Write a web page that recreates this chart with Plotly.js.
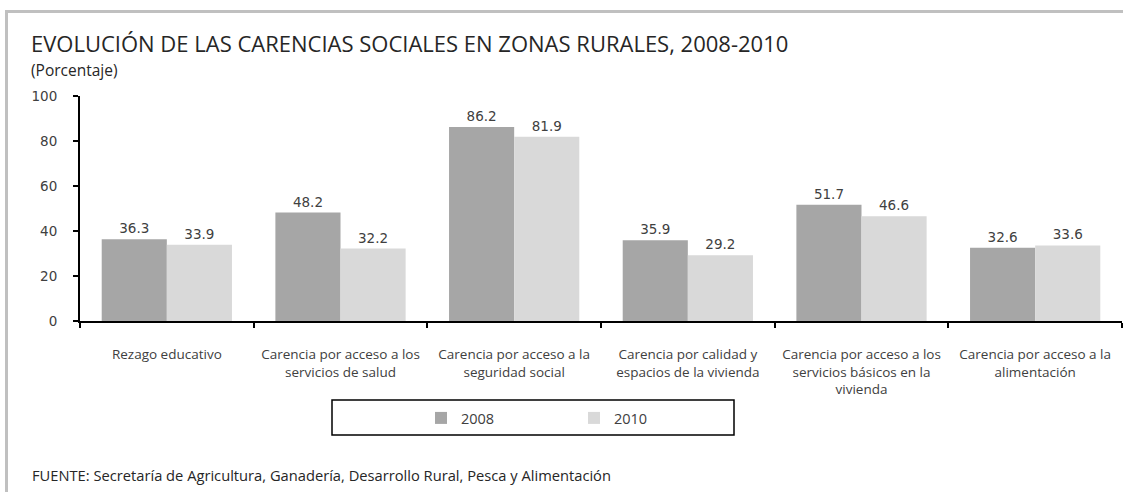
<!DOCTYPE html>
<html><head><meta charset="utf-8">
<script src="https://cdn.plot.ly/plotly-3.0.1.min.js"></script>
<style>html,body{margin:0;padding:0;background:#fff;}#chart{width:1123px;height:492px;}</style>
</head><body><div id="chart"></div>
<script>
const categories = [
  "Rezago educativo",
  "Carencia por acceso a los<br>servicios de salud",
  "Carencia por acceso a la<br>seguridad social",
  "Carencia por calidad y<br>espacios de la vivienda",
  "Carencia por acceso a los<br>servicios básicos en la<br>vivienda",
  "Carencia por acceso a la<br>alimentación"
];
const values2008 = [36.3, 48.2, 86.2, 35.9, 51.7, 32.6];
const values2010 = [33.9, 32.2, 81.9, 29.2, 46.6, 33.6];
const seriesNames = ["2008", "2010"];
const yTicks = [0, 20, 40, 60, 80, 100];

const W = 1123, H = 492, L = 80, R = 1, T = 96, B = 171;
const pw = W - L - R, ph = H - T - B;
const px = x => (x - L) / pw;
const py = y => (H - B - y) / ph;

const FONT = "Open Sans, Noto Sans, sans-serif";
const NUMFONT = "DejaVu Sans, Verdana, sans-serif";
const TXT = "#404040";

const traces = [
  {type: "bar", name: seriesNames[0], x: categories, y: values2008,
   marker: {color: "#a6a6a6"}, text: values2008.map(v => v.toFixed(1)),
   textposition: "outside", cliponaxis: false,
   textfont: {family: NUMFONT, size: 13.5, color: TXT}},
  {type: "bar", name: seriesNames[1], x: categories, y: values2010,
   marker: {color: "#d9d9d9"}, text: values2010.map(v => v.toFixed(1)),
   textposition: "outside", cliponaxis: false,
   textfont: {family: NUMFONT, size: 13.5, color: TXT}}
];

const layout = {
  width: W, height: H,
  margin: {l: L, r: R, t: T, b: B, pad: 0},
  paper_bgcolor: "#fff", plot_bgcolor: "#fff",
  font: {family: FONT, color: TXT},
  barmode: "group", bargap: 0.25, bargroupgap: 0,
  showlegend: true,
  legend: {orientation: "h", x: px(421), xanchor: "left", y: py(402), yanchor: "top",
           font: {family: FONT, size: 14.5, color: TXT}, entrywidth: 108, entrywidthmode: "pixels",
           bgcolor: "rgba(0,0,0,0)", borderwidth: 0, itemclick: false},
  xaxis: {type: "category", showline: true, linecolor: "#000", linewidth: 2,
          ticks: "outside", tickson: "boundaries", ticklen: 5, tickcolor: "#000", tickwidth: 2,
          tickfont: {family: FONT, size: 13.5, color: TXT}, showgrid: false, zeroline: false,
          fixedrange: true, ticklabelstandoff: 20},
  yaxis: {range: [0, 100], tickvals: yTicks, ticktext: yTicks.map(String),
          showline: true, linecolor: "#000", linewidth: 2, ticks: "outside", ticklen: 5,
          tickcolor: "#000", tickwidth: 2, showgrid: false, zeroline: false,
          tickfont: {family: NUMFONT, size: 13.5, color: TXT}, ticklabelstandoff: 13, fixedrange: true},
  shapes: [
    {type: "line", xref: "paper", yref: "paper", x0: px(6.5), x1: px(6.5), y0: py(10), y1: py(H + 5),
     line: {color: "#c0c0c0", width: 3}},
    {type: "line", xref: "paper", yref: "paper", x0: px(5), x1: px(W + 5), y0: py(11.5), y1: py(11.5),
     line: {color: "#c0c0c0", width: 3}},
    {type: "rect", xref: "paper", yref: "paper", x0: px(332), x1: px(734), y0: py(400), y1: py(435),
     line: {color: "#000", width: 1.5}, fillcolor: "rgba(0,0,0,0)"}
  ],
  annotations: [
    {xref: "paper", yref: "paper", x: px(30), y: py(43.5), xanchor: "left", yanchor: "middle",
     borderpad: 0,
     text: "EVOLUCIÓN DE LAS CARENCIAS SOCIALES EN ZONAS RURALES, 2008-2010", showarrow: false,
     font: {family: FONT, size: 22, color: "#262626"}},
    {xref: "paper", yref: "paper", x: px(30), y: py(69.5), xanchor: "left", yanchor: "middle",
     borderpad: 0,
     text: "(Porcentaje)", showarrow: false, font: {family: FONT, size: 15.5, color: "#262626"}},
    {xref: "paper", yref: "paper", x: px(30), y: py(475), xanchor: "left", yanchor: "middle",
     text: "FUENTE: Secretaría de Agricultura, Ganadería, Desarrollo Rural, Pesca y Alimentación", showarrow: false,
     font: {family: FONT, size: 14.7, color: "#262626"}}
  ]
};

Plotly.newPlot("chart", traces, layout, {displayModeBar: false, staticPlot: true});
</script></body></html>
